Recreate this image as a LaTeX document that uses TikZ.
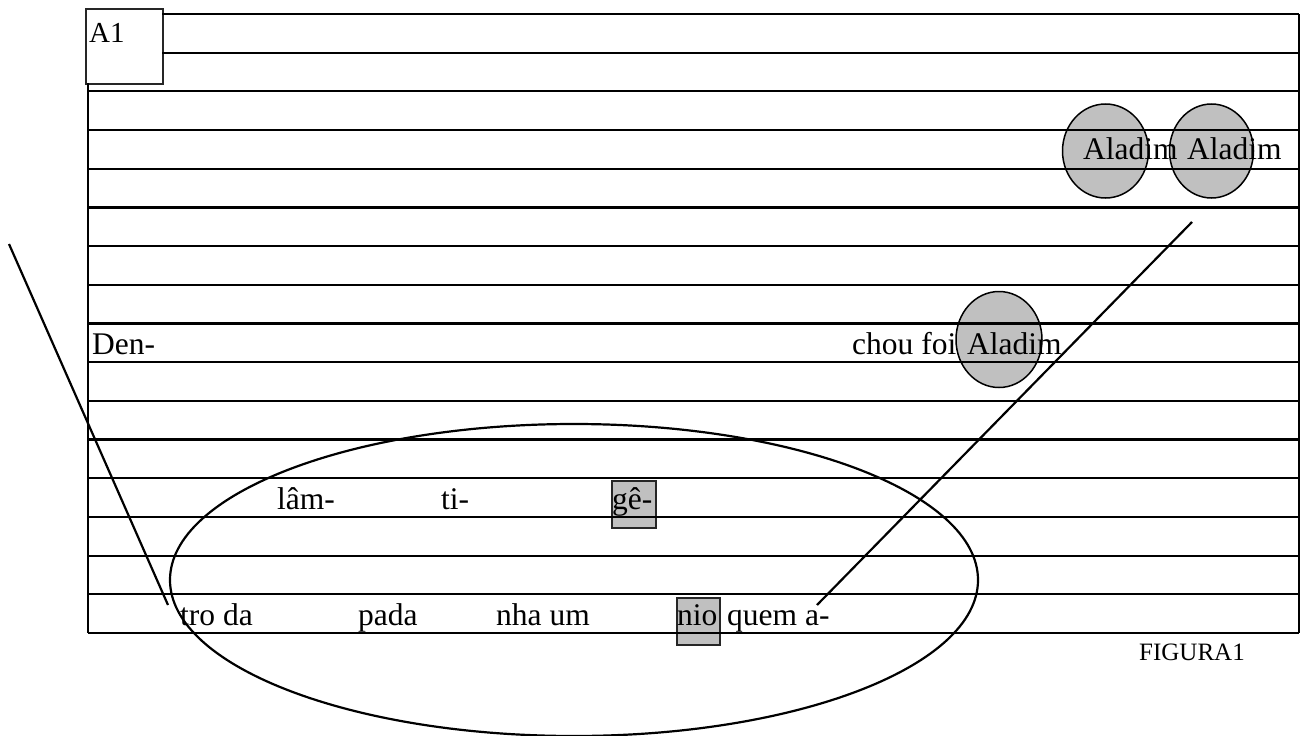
\documentclass[tikz,border=0pt]{standalone}
\usepackage{fontspec}
\setmainfont{Liberation Serif}
\definecolor{silvergray}{HTML}{C0C0C0}
\begin{document}
\begin{tikzpicture}[x=1pt,y=-1pt,
  rule/.style={line width=2.2pt, black},
  syl/.style={anchor=base west, inner sep=0pt, font=\fontsize{31.5}{36}\selectfont},
  hilite/.style={fill=silvergray, draw=black!85, line width=1.5pt},
  bubble/.style={fill=silvergray, draw=black, line width=1.5pt},
  stroke/.style={line width=2.2pt, black}]
\useasboundingbox (0,0) rectangle (1302,736);

% shaded circles behind the staff
\filldraw[bubble] (1105.5,151) ellipse [x radius=43, y radius=47];
\filldraw[bubble] (1211.5,151) ellipse [x radius=42, y radius=47];
\filldraw[bubble] (999,339.5) ellipse [x radius=43, y radius=48];

% shaded syllable boxes
\node[hilite, anchor=north west, minimum width=44, minimum height=47, inner sep=0pt] (gebox) at (611,480) {};
\node[hilite, anchor=north west, minimum width=43, minimum height=47, inner sep=0pt] (niobox) at (676,597) {};

% label box in the corner
\node[draw=black!85, line width=2.2pt, anchor=north west, minimum width=77, minimum height=75, inner sep=0pt] (tag) at (85,8) {};
\node[anchor=base west, inner sep=0pt, font=\fontsize{29}{33}\selectfont] (tagtext) at (89,42) {A1};

% ruled lines
\draw[rule] (162,14) -- (1299,14);
\draw[rule] (162,52.7) -- (1299,52.7);
\foreach \k in {2,...,16}
  \draw[rule] (88,{14+38.6875*\k}) -- (1299,{14+38.6875*\k});
\draw[rule] (88,83) -- (88,633);
\draw[rule] (1299,14) -- (1299,633);

% syllables
\node[syl] (den) at (92,354) {Den-};
\node[syl] (chou) at (852,354) {chou foi};
\node[syl] (al3) at (967,354) {Aladim};
\node[syl] (al1) at (1083,159) {Aladim};
\node[syl] (al2) at (1187,159) {Aladim};
\node[syl] (lam) at (277,509) {lâm-};
\node[syl] (ti) at (441,509) {ti-};
\node[syl] (ge) at (612,509) {gê-};
\node[syl] (tro) at (180,625) {tro da};
\node[syl] (pada) at (358,625) {pada};
\node[syl] (nha) at (496,625) {nha um};
\node[syl] (nio) at (677,625) {nio};
\node[syl] (quem) at (727,625) {quem a-};

\node[anchor=base west, inner sep=0pt, font=\fontsize{25}{30}\selectfont] (fig) at (1139,660) {FIGURA1};

% large ellipse and the two strokes
\draw[stroke] (574,580) ellipse [x radius=404, y radius=156];
\coordinate (la) at (9,244);
\coordinate (lb) at (168,605);
\coordinate (ra) at (1192,222);
\coordinate (rb) at (817,605);
\draw[stroke] (la) -- (lb);
\draw[stroke] (ra) -- (rb);
\end{tikzpicture}
\end{document}
